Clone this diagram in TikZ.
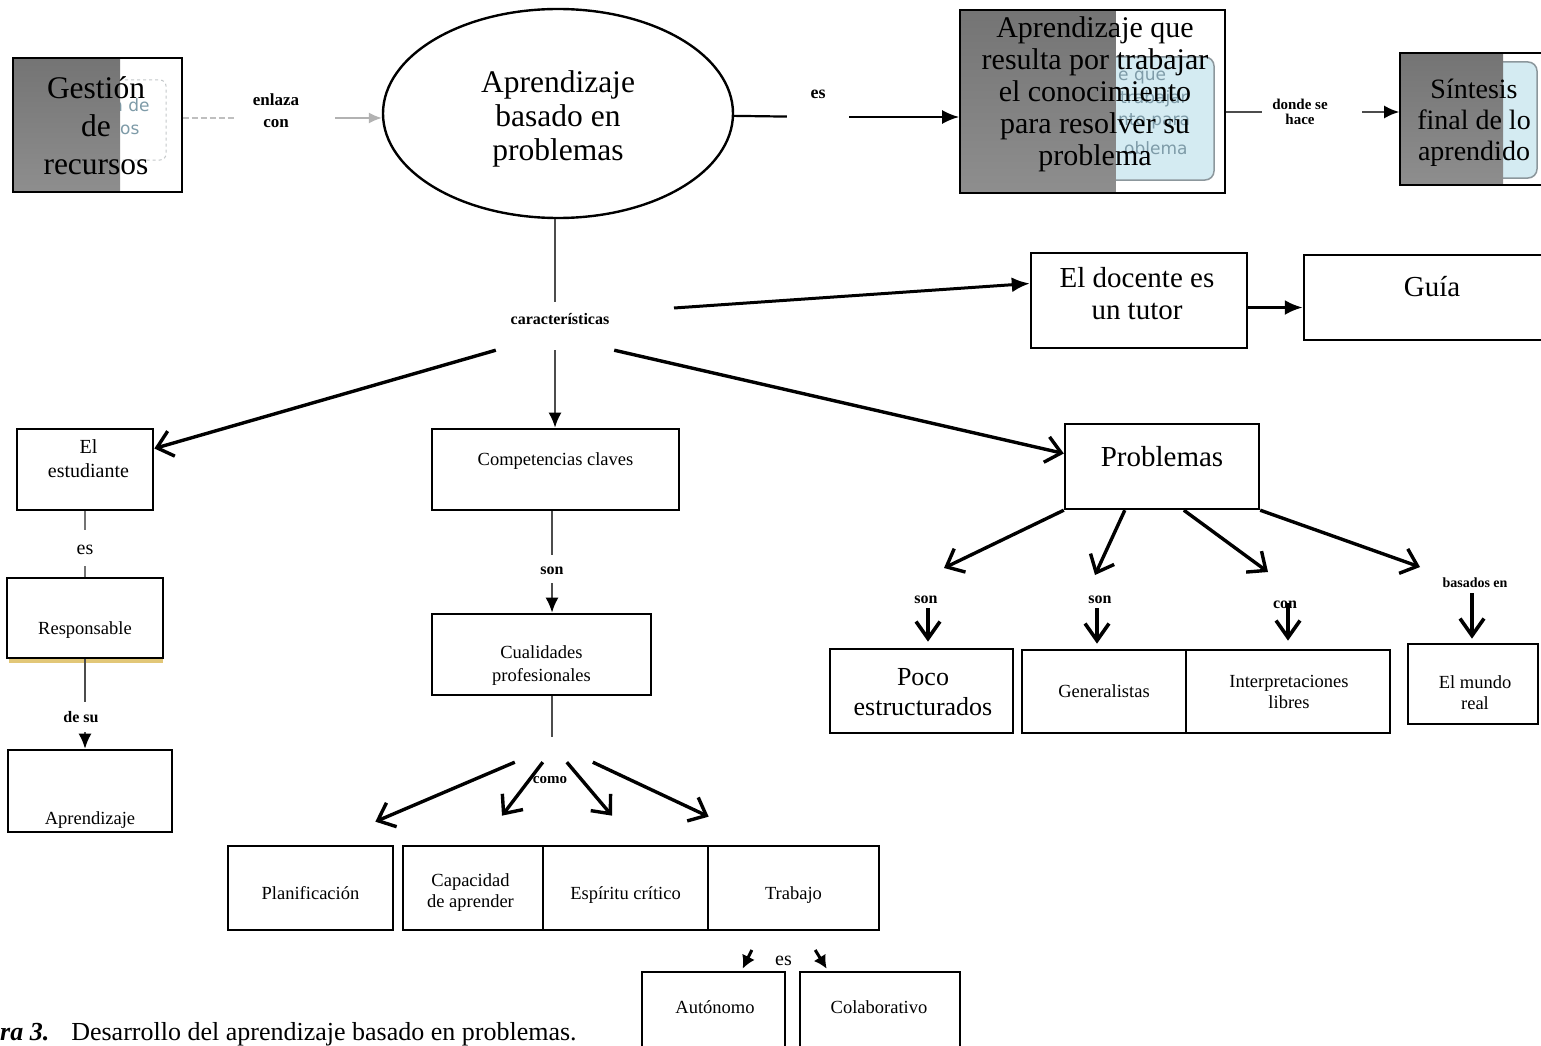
\documentclass[tikz,border=0pt]{standalone}
\usepackage{fontspec}
\setmainfont{Liberation Serif}
\newfontfamily\ghostf{DejaVu Sans}
\usetikzlibrary{arrows.meta,shapes.geometric}
\definecolor{gA}{HTML}{747474}
\definecolor{gB}{HTML}{8E8E8E}
\definecolor{ghostblue}{HTML}{D4EBF2}
\definecolor{ghostedge}{HTML}{8C979C}
\definecolor{ghosttxt}{HTML}{7E9BA8}
\definecolor{ghostgray}{HTML}{C4C8CA}
\definecolor{shadowy}{HTML}{E2C778}
\newcommand{\fz}[2]{\fontsize{#1}{#2}\selectfont}
\newcommand{\mv}[3]{\raisebox{\dimexpr#2-0.3em-1pt\relax}[0pt][0pt]{\makebox[0pt]{\hspace*{#1}\begin{tabular}{@{}c@{}}#3\end{tabular}}}}
\tikzset{
  topbox/.style={draw, line width=1.7pt, inner sep=0pt, font=\fz{30}{32}},
  midbox/.style={draw, line width=2.4pt, inner sep=0pt, font=\fz{29}{32}},
  lowbox/.style={draw, line width=2.7pt, inner sep=0pt, font=\fz{18.5}{21}},
  lbl/.style={fill=white, inner sep=0pt, font=\bfseries\fz{16}{19}},
  ghostlbl/.style={inner sep=0pt, font=\ghostf\fz{17}{20}, text=ghosttxt},
  conn/.style={line width=1.8pt, draw=black!70},
  connarr/.style={conn, -{Latex[length=15pt,width=13pt,color=black]}},
  toparr/.style={line width=2.2pt, -{Latex[length=17pt,width=14pt]}},
  bigarr/.style={line width=3pt, -{Latex[length=18pt,width=15pt]}},
  varr/.style={line width=3.4pt, -{Straight Barb[length=15pt,width=26pt]}},
  varrtwo/.style={line width=3.6pt, -{Straight Barb[length=17pt,width=24pt]}},
  smallarr/.style={line width=3pt, -{Latex[length=13pt,width=14pt]}},
  faint/.style={line width=1.5pt, draw=black!25, dash pattern=on 6pt off 3pt},
  graypart/.style={path picture={\shade[top color=gA, bottom color=gB] (path picture bounding box.north west) rectangle ([xshift=#1]path picture bounding box.south west);}}
}
\begin{document}
\begin{tikzpicture}[x=1pt,y=-1pt]
\useasboundingbox (0,0) rectangle (1541,1046);
\fill[white] (0,0) rectangle (1541,1046);

% faint remains of an older drawing under the top boxes
\draw[ghostgray, dashed, line width=1pt, rounded corners=6pt] (110,80) rectangle (166,160);
\node[ghostlbl, anchor=west] (gh1) at (112,105) {n de};
\node[ghostlbl, anchor=west] (gh2) at (120,130) {os};
\draw[ghostedge, fill=ghostblue, line width=1.5pt, rounded corners=9pt] (1100,57) rectangle (1214,180);
\node[ghostlbl, anchor=west] (gh3) at (1118,78) {e que};
\node[ghostlbl, anchor=west] (gh4) at (1120,99) {trabajar};
\node[ghostlbl, anchor=west] (gh5) at (1118,121) {nto para};
\node[ghostlbl, anchor=west] (gh6) at (1124,148) {oblema};
\draw[ghostedge, fill=ghostblue, line width=1.5pt, rounded corners=9pt] (1490,62) rectangle (1537,178);

% top row
\node[topbox, graypart=107pt, font=\fz{31.5}{38}, minimum width=169pt, minimum height=134pt] (ges) at (97.5,125) {\mv{-3pt}{0pt}{Gestión\\de\\recursos}};
\node[ellipse, draw, line width=2.4pt, inner sep=0pt, minimum width=350pt, minimum height=209pt, font=\fz{31.5}{34}] (ell) at (558,113.5) {\mv{0pt}{-2pt}{Aprendizaje\\basado en\\problemas}};
\node[topbox, graypart=155.5pt, minimum width=265pt, minimum height=183pt] (apq) at (1092.5,101.5) {\mv{5pt}{10.5pt}{Aprendizaje que\\resulta por trabajar\\el conocimiento\\para resolver su\\problema}};
\node[topbox, graypart=103pt, font=\fz{28}{31}, minimum width=145pt, minimum height=132pt] (syn) at (1472.5,119) {\mv{3pt}{-1pt}{Síntesis\\final de lo\\aprendido}};

\node[lbl, font=\bfseries\fz{17}{22}, minimum width=100pt, minimum height=50pt] (enl) at (285,118) {\mv{-18pt}{8pt}{enlaza\\con}};
\node[lbl, font=\bfseries\fz{18}{20}, minimum width=62pt, minimum height=44pt] (les) at (818,117) {\mv{0pt}{25pt}{es}};
\node[lbl, font=\bfseries\fz{15}{15}, minimum width=100pt, minimum height=46pt] (ldon) at (1312,112) {\mv{-24pt}{0pt}{donde se\\hace}};

% second row
\node[lbl, minimum width=118pt, minimum height=48pt] (car) at (555,326) {\mv{10pt}{7pt}{características}};
\node[midbox, minimum width=216pt, minimum height=95pt] (doc) at (1139,300.5) {\mv{-4pt}{6.5pt}{El docente es\\un tutor}};
\node[midbox, minimum width=241pt, minimum height=85pt] (guia) at (1424.5,297.5) {\mv{15pt}{10.5pt}{Guía}};

% left column
\node[lowbox, font=\fz{20}{24}, minimum width=136pt, minimum height=81pt] (est) at (85,469.5) {\mv{7pt}{10.5pt}{El\\estudiante}};
\node[lbl, font=\fz{20}{22}, minimum width=40pt, minimum height=36pt] (les2) at (85,548) {\mv{0pt}{0pt}{es}};
\fill[shadowy] (9,659) rectangle (163,663);
\node[lowbox, minimum width=156pt, minimum height=80pt] (resp) at (85,618) {\mv{0pt}{-10pt}{Responsable}};
\node[lbl, minimum width=50pt, minimum height=30pt] (desu) at (85,717) {\mv{-8pt}{0pt}{de su}};
\node[lowbox, minimum width=164pt, minimum height=82pt] (apr) at (90,791) {\mv{0pt}{-27pt}{Aprendizaje}};

% middle column
\node[lowbox, minimum width=247pt, minimum height=81pt] (comp) at (555.5,469.5) {\mv{0pt}{10.5pt}{Competencias claves}};
\node[lbl, minimum width=36pt, minimum height=28pt] (son0) at (552,569) {\mv{0pt}{0pt}{son}};
\node[lowbox, font=\fz{18.5}{23}, minimum width=219pt, minimum height=81pt] (cual) at (541.5,654.5) {\mv{0pt}{-9pt}{Cualidades\\profesionales}};
\node[lbl, font=\bfseries\fz{15}{18}, minimum width=102pt, minimum height=25pt] (como) at (552,749.5) {\mv{-4pt}{-28pt}{como}};

\node[lowbox, minimum width=165pt, minimum height=84pt] (plan) at (310.5,888) {\mv{0pt}{-5pt}{Planificación}};
\node[lowbox, minimum width=140pt, minimum height=84pt] (cap) at (473,888) {\mv{-5pt}{-2.5pt}{Capacidad\\de aprender}};
\node[lowbox, minimum width=165pt, minimum height=84pt] (esp) at (625.5,888) {\mv{0pt}{-5pt}{Espíritu crítico}};
\node[lowbox, minimum width=171pt, minimum height=84pt] (trab) at (793.5,888) {\mv{0pt}{-5pt}{Trabajo}};
\node[lbl, font=\fz{20}{22}, minimum width=63pt, minimum height=30pt] (les3) at (783.5,950) {\mv{0pt}{-9pt}{es}};
\node[lowbox, minimum width=143pt, minimum height=83pt] (auto) at (713.5,1013.5) {\mv{3pt}{6.5pt}{Autónomo}};
\node[lowbox, minimum width=160pt, minimum height=83pt] (cola) at (880,1013.5) {\mv{-2pt}{6.5pt}{Colaborativo}};

% right part
\node[midbox, font=\fz{29}{32}, minimum width=194pt, minimum height=85pt] (prob) at (1162,466.5) {\mv{0pt}{9.5pt}{Problemas}};
\node[lbl, minimum width=36pt, minimum height=20pt] (son1) at (928,598) {\mv{-4pt}{0pt}{son}};
\node[lbl, minimum width=36pt, minimum height=20pt] (son2) at (1097,598) {\mv{6pt}{0pt}{son}};
\node[lbl, minimum width=36pt, minimum height=20pt] (con) at (1288,603) {\mv{-6pt}{0pt}{con}};
\node[lbl, font=\bfseries\fz{14}{16}, minimum width=80pt, minimum height=20pt] (bas) at (1472,583) {\mv{6pt}{0pt}{basados en}};
\node[lowbox, font=\fz{26}{30}, minimum width=183pt, minimum height=84pt] (poco) at (921.5,691) {\mv{3pt}{-1pt}{Poco\\estructurados}};
\node[lowbox, minimum width=164pt, minimum height=83pt] (gen) at (1104,691.5) {\mv{0pt}{0pt}{Generalistas}};
\node[lowbox, minimum width=204pt, minimum height=83pt] (interp) at (1288,691.5) {\mv{2pt}{0pt}{Interpretaciones\\libres}};
\node[lowbox, minimum width=130pt, minimum height=80pt] (mundo) at (1473,684) {\mv{4pt}{-8.5pt}{El mundo\\real}};

% caption
\node[anchor=base west, inner sep=0pt, font=\fz{26}{30}] (capt) at (0,1040) {\textbf{\textit{ra 3.}}\hspace{22pt}Desarrollo del aprendizaje basado en problemas.};

% connectors, top row
\draw[faint] (enl.west -| ges.east) -- (enl.west);
\draw[line width=1.5pt, draw=black!30, -{Latex[length=13pt,width=11pt]}] (enl.east) -- (enl.east -| ell.west);
\draw[line width=2.2pt] (ell) -- (les);
\draw[toparr] (les.east) -- (les.east -| apq.west);
\draw[conn] (ldon.west -| apq.east) -- (ldon.west);
\draw[connarr] (ldon.east) -- (ldon.east -| syn.west);

% connectors, characteristics
\draw[conn] (ell.south -| car.north) -- (car.north);
\coordinate (cd) at (674,308);
\draw[bigarr] (cd) -- ([yshift=17pt]doc.west);
\coordinate (dg) at ([yshift=-7pt]doc.east);
\draw[bigarr] (dg) -- (dg -| guia.west);
\draw[varr] (car.south west) -- ([yshift=21pt]est.east);
\draw[connarr] (car.south) -- (car.south |- comp.north);
\draw[varr] (car.south east) -- ([yshift=13pt]prob.west);

% left column
\draw[conn, draw=black!55] (est) -- (les2);
\draw[conn, draw=black!55] (les2) -- (resp);
\draw[conn] (resp) -- (desu);
\draw[connarr] (desu) -- (desu |- apr.north);

% middle column
\draw[conn] (comp.south -| son0) -- (son0);
\draw[connarr] (son0) -- (son0 |- cual.north);
\draw[conn] (cual.south -| como.north) -- (como.north);
\draw[varr] ([xshift=14pt]como.south west) -- ([xshift=-19pt,yshift=23pt]plan.north east);
\draw[varr] ([xshift=42pt]como.south west) -- ([xshift=29pt,yshift=29pt]cap.north);
\draw[varr] ([xshift=66pt]como.south west) -- ([xshift=-13.5pt,yshift=29pt]esp.north);
\draw[varr] ([xshift=92pt]como.south west) -- ([xshift=2pt,yshift=28pt]trab.north west);
\draw[smallarr] (les3.west) -- ([xshift=102pt,yshift=2pt]auto.north west);
\draw[smallarr] (les3.east) -- ([xshift=28pt,yshift=2pt]cola.north west);

% right part
\coordinate (tp1) at (944,568);
\coordinate (tp2) at (1095,575);
\coordinate (tp3) at (1268,572);
\coordinate (tp4) at (1420,567);
\draw[varr] (prob.south west) -- (tp1);
\draw[varr] ([xshift=61pt]prob.south west) -- (tp2);
\draw[varr] ([xshift=120pt]prob.south west) -- (tp3);
\draw[varr] (prob.south east) -- (tp4);
\draw[varrtwo, shorten >=6pt] (son1) -- (son1 |- poco.north);
\draw[varrtwo, shorten >=5pt] (son2) -- (son2 |- gen.north);
\draw[varrtwo, shorten >=8pt] (con.center) -- (con.center |- interp.north);
\draw[varrtwo, shorten >=4pt] (bas) -- (bas |- mundo.north);
\end{tikzpicture}
\end{document}
